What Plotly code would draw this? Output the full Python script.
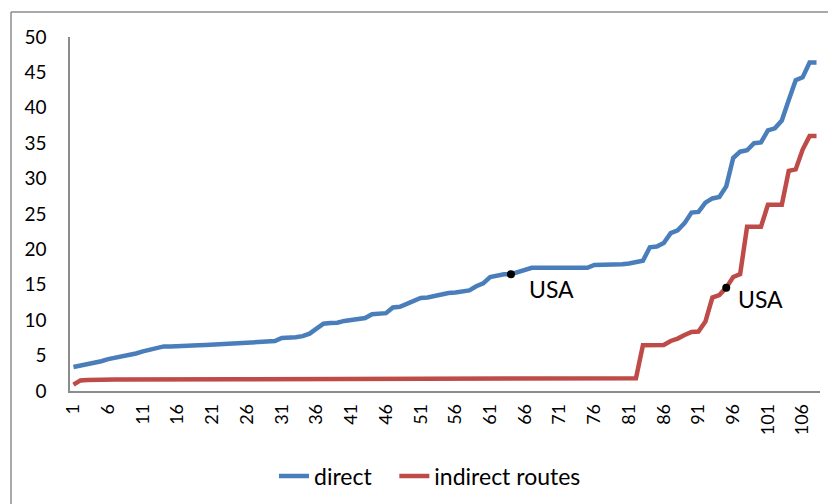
import plotly.graph_objects as go

categories = list(range(1, 109))

direct = [3.4, 3.6, 3.75, 3.9, 4.2, 4.5, 4.7, 4.85, 5.0, 5.3,
          5.6, 5.85, 6.05, 6.3, 6.3, 6.3, 6.35, 6.4, 6.45, 6.5,
          6.55, 6.6, 6.6, 6.65, 6.7, 6.7, 6.75, 6.8, 6.9, 7.05,
          7.5, 7.5, 7.6, 7.75, 8.1, 8.8, 9.5, 9.6, 9.65, 9.9,
          10.05, 10.1, 10.3, 10.85, 10.9, 11.0, 11.8, 11.9, 12.3, 12.75,
          13.15, 13.2, 13.4, 13.7, 13.85, 13.9, 14.0, 14.2, 14.8, 15.2,
          16.1, 16.3, 16.5, 16.5, 16.8, 16.95, 17.4, 17.4, 17.4, 17.4,
          17.4, 17.4, 17.4, 17.4, 17.4, 17.8, 17.8, 17.85, 17.85, 17.9,
          18.0, 18.2, 18.4, 20.3, 20.4, 20.9, 22.3, 22.7, 23.7, 25.2,
          25.3, 26.6, 27.2, 27.4, 28.9, 32.9, 33.8, 34.0, 35.0, 35.1,
          36.8, 37.1, 38.2, 41.1, 43.9, 44.3, 46.4, 46.4]

indirect = [0.9, 1.5, 1.55, 1.6, 1.6, 1.62, 1.63, 1.64, 1.65, 1.65,
            1.65, 1.65, 1.65, 1.65, 1.65, 1.65, 1.65, 1.65, 1.65, 1.65,
            1.65, 1.65, 1.65, 1.65, 1.65, 1.65, 1.65, 1.65, 1.65, 1.65,
            1.65, 1.65, 1.65, 1.65, 1.65, 1.65, 1.65, 1.65, 1.65, 1.65,
            1.65, 1.65, 1.65, 1.65, 1.65, 1.65, 1.65, 1.65, 1.65, 1.65,
            1.65, 1.65, 1.65, 1.65, 1.65, 1.65, 1.65, 1.65, 1.65, 1.65,
            1.65, 1.65, 1.65, 1.65, 1.65, 1.68, 1.7, 1.7, 1.7, 1.7,
            1.7, 1.7, 1.7, 1.7, 1.72, 1.75, 1.75, 1.8, 1.8, 1.8,
            1.8, 1.8, 6.47, 6.47, 6.47, 6.5, 7.07, 7.4, 7.9, 8.35,
            8.4, 9.8, 13.2, 13.55, 14.6, 16.1, 16.5, 23.2, 23.2, 23.2,
            26.3, 26.3, 26.3, 31.1, 31.3, 34.1, 36.0, 36.0]

tick_vals = list(range(1, 109, 5))
tick_text = [str(v) for v in tick_vals]

usa_direct_idx = 64
usa_indirect_idx = 95

BLUE = "#4A7EBB"
RED = "#BE4B48"
FONT = "Lato"

# canvas is offset by the page's default 8px body margin
W, H = 828, 496
ML, MR, MT, MB = 62, 16, 29, 113
PW, PH = W - ML - MR, H - MT - MB

fig = go.Figure()
fig.add_trace(go.Scatter(x=categories, y=direct, mode="lines",
                         name="direct\u00a0\u00a0\u00a0",
                         line=dict(color=BLUE, width=4.5)))
fig.add_trace(go.Scatter(x=categories, y=indirect, mode="lines", name="indirect routes",
                         line=dict(color=RED, width=4.5)))
fig.add_trace(go.Scatter(x=[usa_direct_idx, usa_indirect_idx],
                         y=[direct[usa_direct_idx - 1], indirect[usa_indirect_idx - 1]],
                         mode="markers", marker=dict(color="black", size=8),
                         showlegend=False, hoverinfo="skip"))

fig.add_annotation(x=usa_direct_idx, y=direct[usa_direct_idx - 1], text="USA",
                   showarrow=False, xanchor="left", yanchor="middle",
                   xshift=16, yshift=-15, font=dict(family=FONT, size=23, color="black"))
fig.add_annotation(x=usa_indirect_idx, y=indirect[usa_indirect_idx - 1], text="USA",
                   showarrow=False, xanchor="left", yanchor="middle",
                   xshift=10, yshift=-11, font=dict(family=FONT, size=23, color="black"))

# outer chart border: only the left and top edges are inside the window
BORDER = dict(color="#8C8C8C", width=1.5)
bx = (3 - ML) / PW
by_top = (H - MB - 4) / PH
fig.add_shape(type="line", xref="paper", yref="paper",
              x0=bx, x1=bx, y0=-MB / PH - 0.1, y1=by_top, line=BORDER)
fig.add_shape(type="line", xref="paper", yref="paper",
              x0=bx, x1=1 + (MR + 20) / PW, y0=by_top, y1=by_top, line=BORDER)

fig.update_layout(
    width=W, height=H,
    margin=dict(l=ML, r=MR, t=MT, b=MB, autoexpand=False),
    paper_bgcolor="white", plot_bgcolor="white",
    font=dict(family=FONT, size=19, color="black"),
    showlegend=True,
    legend=dict(orientation="h", x=(422 - ML) / PW, xanchor="center",
                y=-(468 - (H - MB)) / PH, yanchor="middle",
                font=dict(family=FONT, size=23, color="black"),
                bgcolor="rgba(0,0,0,0)", tracegroupgap=0),
)
fig.update_xaxes(range=[0.5, 108.5], tickmode="array", tickvals=tick_vals, ticktext=tick_text,
                 tickangle=-90, showgrid=False, zeroline=False, showline=True,
                 linecolor="#8C8C8C", linewidth=1.5, ticks="outside", ticklen=4,
                 tickcolor="rgba(0,0,0,0)", automargin=False,
                 tickfont=dict(family=FONT, size=18, color="black"))
fig.update_yaxes(range=[0, 50], dtick=5, showgrid=False, zeroline=False, showline=True,
                 linecolor="#8C8C8C", linewidth=1.5, ticks="outside", ticklen=18,
                 tickcolor="rgba(0,0,0,0)", automargin=False,
                 tickfont=dict(family=FONT, size=19, color="black"))

fig.write_html("out.html")
